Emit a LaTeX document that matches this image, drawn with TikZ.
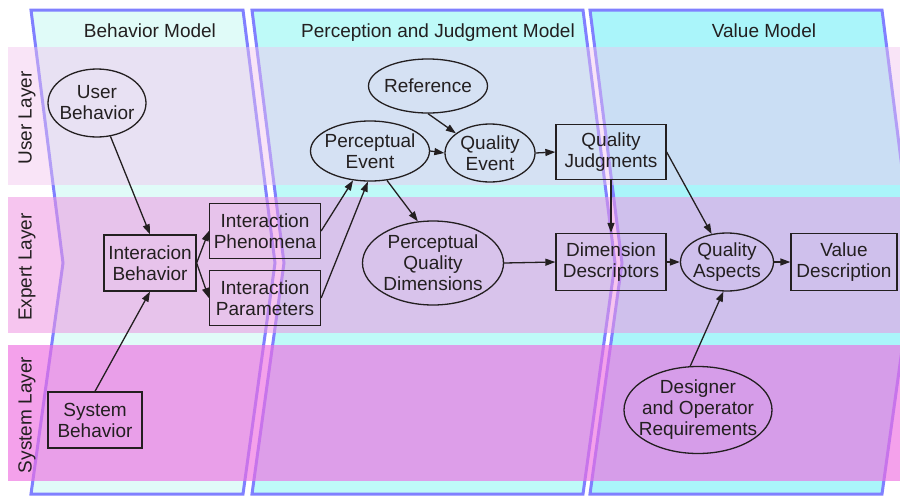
\documentclass[tikz,border=0pt]{standalone}
\usepackage{fontspec}
\setmainfont{Liberation Sans}
\usepackage{tikz}
\usetikzlibrary{arrows.meta,calc,shapes.geometric}
\definecolor{ModelBehavior}{HTML}{E0FBF8}
\definecolor{ModelPerception}{HTML}{BEFAF8}
\definecolor{ModelValue}{HTML}{AAF5FA}
\definecolor{ModelEdge}{HTML}{8080FF}
\definecolor{LayerUser}{HTML}{F2C3ED}
\definecolor{LayerExpert}{HTML}{EE96E1}
\definecolor{LayerSystem}{HTML}{EE6EE1}
\definecolor{Ink}{HTML}{231F20}

\begin{document}
\begin{tikzpicture}[x=1pt,y=-1pt,font=\fontsize{19}{21}\selectfont,text=Ink,
   box/.style={draw=Ink,line width=1.3pt,align=center,inner sep=1pt},
   oval/.style={ellipse,draw=Ink,line width=1.3pt,align=center,inner sep=-12pt},
   link/.style={draw=Ink,line width=1.3pt,-{Triangle[length=10pt,width=7pt]}}]
   \useasboundingbox (0,0) rectangle (900,496);
   \begin{scope}
   \clip (0,0) rectangle (900,496);
   \foreach \xl/\xr/\col/\xt/\name/\title in {31/243/ModelBehavior/150/bm/Behavior Model,
     252/583/ModelPerception/438/pm/Perception and Judgment Model,
     590/882/ModelValue/764/vm/Value Model} {
    \filldraw[fill=\col,draw=ModelEdge,line width=3pt]
      (\xl,10) -- (\xr,10) -- (\xr+32,263) -- (\xr,494) -- (\xl,494) -- (\xl+32,263) -- cycle;
    \node[anchor=base] (\name) at (\xt,37) {\title};
   }
   \foreach \ytop/\ybot/\col/\op/\name/\layer in {47/185/LayerUser/.45/ul/User Layer,
     197/333/LayerExpert/.55/el/Expert Layer,
     345/481/LayerSystem/.65/sl/System Layer} {
    \fill[\col,fill opacity=\op] (8,\ytop) rectangle (900,\ybot);
    \node[rotate=90] (\name) at (27,{(\ytop+\ybot)/2+2}) {\layer};
   }
   \end{scope}

   \node[oval,minimum width=98pt,minimum height=68pt] (UB) at (97,103) {User\\Behavior};
   \node[box,minimum width=92pt,minimum height=56pt] (IB) at (150,263) {Interacion\\Behavior};
   \node[box,minimum width=111pt,minimum height=55pt] (IPh) at (265,231) {Interaction\\Phenomena};
   \node[box,minimum width=111pt,minimum height=55pt] (IPa) at (265,298) {Interaction\\Parameters};
   \node[box,minimum width=94pt,minimum height=56pt] (SB) at (95,420) {System\\Behavior};
   \node[oval,minimum width=119pt,minimum height=54pt] (Ref) at (428,86) {Reference};
   \node[oval,minimum width=119pt,minimum height=60pt] (PE) at (370,151) {Perceptual\\Event};
   \node[oval,minimum width=90pt,minimum height=58pt] (QE) at (490,153) {Quality\\Event};
   \node[box,minimum width=110pt,minimum height=55pt] (QJ) at (611,152) {Quality\\Judgments};
   \node[oval,minimum width=141pt,minimum height=84pt] (PQD) at (433,263) {Perceptual\\Quality\\Dimensions};
   \node[box,minimum width=110pt,minimum height=57pt] (DD) at (611,262) {Dimension\\Descriptors};
   \node[oval,minimum width=93pt,minimum height=58pt] (QA) at (727,262) {Quality\\Aspects};
   \node[box,minimum width=106pt,minimum height=57pt] (VD) at (844,262) {Value\\Description};
   \node[oval,minimum width=148pt,minimum height=87pt] (DOR) at (698,410) {Designer\\and Operator\\Requirements};

   \draw[link] (UB) -- (IB.north);
   \draw[link] (SB.north) -- (IB.south);
   \draw[link] (IB.east) -- (IPh.west);
   \draw[link] (IB.east) -- (IPa.west);
   \draw[link] (IPh.east) -- (PE.240);
   \draw[link] (IPa.east) -- (PE.266);
   \draw[link] (PE.300) -- (PQD.110);
   \draw[link] (Ref.south) -- (QE.150);
   \draw[link] (PE.east) -- (QE.west);
   \draw[link] (QE.east) -- (QJ.west);
   \draw[link] (QJ.south) -- (DD.north);
   \draw[link] (QJ.east) -- (QA);
   \draw[link] (PQD.east) -- (DD.west);
   \draw[link] (DD.east) -- (QA.west);
   \draw[link] (QA.east) -- (VD.west);
   \draw[link] (DOR.100) -- (QA.263);
\end{tikzpicture}
\end{document}
